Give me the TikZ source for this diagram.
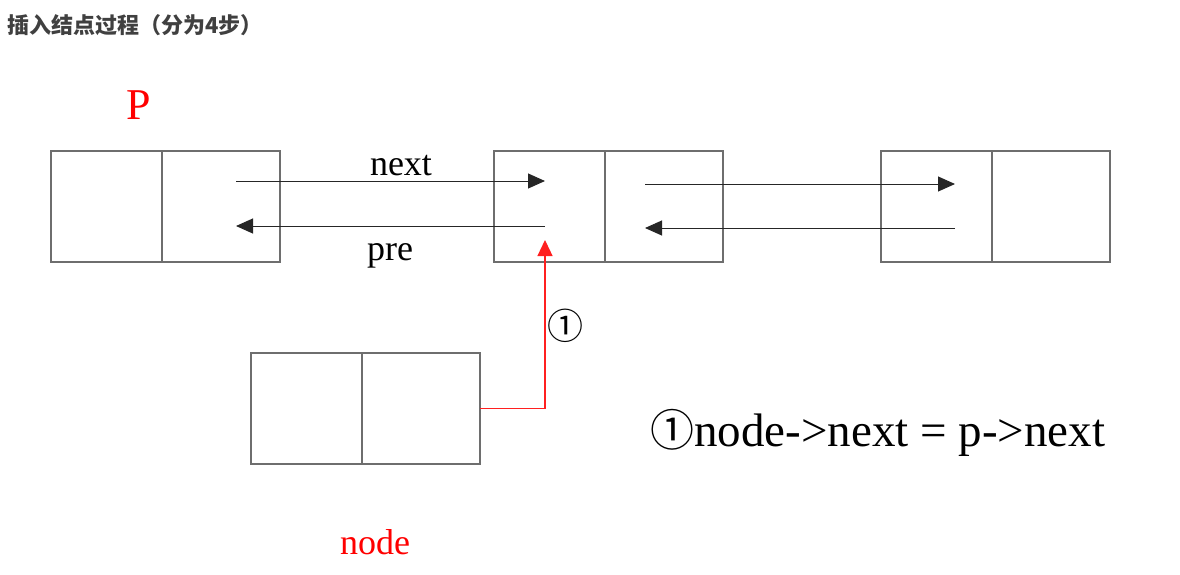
\documentclass[tikz,border=0pt]{standalone}
\usepackage{fontspec}
\setmainfont{Liberation Serif}
\newfontfamily\cjk{Noto Sans CJK SC}
\usetikzlibrary{arrows.meta, positioning}

\definecolor{boxgray}{HTML}{6E6E6E}
\definecolor{linkred}{HTML}{FF2020}
\definecolor{titlegray}{HTML}{404040}

\tikzset{
    cell/.style={draw=boxgray, line width=1.3pt, minimum height=111pt,
                 inner sep=0pt, outer sep=0pt},
    datacell/.style={cell, minimum width=111pt},
    linkcell/.style={cell, minimum width=118pt},
    link/.style={black!85, line width=1pt, -{Triangle[length=17pt, width=15pt]}},
}

\begin{document}
\begin{tikzpicture}[x=1pt, y=-1pt]

    \useasboundingbox (0,0) rectangle (1180,574);

    % 1. Tieu de
    \node[anchor=base west, inner sep=0pt, text=titlegray, font=\cjk\bfseries\fontsize{22}{26}\selectfont]
        (title) at (7,33) {插入结点过程（分为4步）};

    % 2. Ba nut cua danh sach va nut moi
    \node[datacell] (pdata) at (106.5,206.5) {};
    \node[linkcell, right=0pt of pdata] (plink) {};

    \node[datacell] (mdata) at (549.5,206.5) {};
    \node[linkcell, right=0pt of mdata] (mlink) {};

    \node[datacell] (rdata) at (936.5,206.5) {};
    \node[linkcell, right=0pt of rdata] (rlink) {};

    \node[datacell] (ndata) at (306.5,408.5) {};
    \node[linkcell, right=0pt of ndata] (nlink) {};

    % 3. Diem dau va cuoi cua cac con tro
    \coordinate (pnext) at (236,181);
    \coordinate (mnext) at (545,181);
    \coordinate (ppre)  at (236,226);
    \coordinate (mpre)  at (545,226);

    \coordinate (mnext2) at (645,184);
    \coordinate (rnext)  at (955,184);
    \coordinate (mpre2)  at (645,228);
    \coordinate (rpre)   at (955,228);

    \coordinate (mbot) at (545,240);

    % 4. Cac mui ten next / pre
    \draw[link] (pnext) -- (mnext);
    \draw[link] (mpre) -- (ppre);
    \draw[link] (mnext2) -- (rnext);
    \draw[link] (rpre) -- (mpre2);

    % 5. Buoc 1: node->next tro toi p->next
    \draw[linkred, line width=1.3pt, -{Triangle[length=16pt, width=15pt]}]
        (nlink.east) -| (mbot);

    % 6. Nhan
    \node[anchor=base, font=\fontsize{36}{40}\selectfont] (nextlbl) at (401,175) {next};
    \node[anchor=base, font=\fontsize{36}{40}\selectfont] (prelbl)  at (390,260) {pre};
    \node[font=\cjk\fontsize{36}{40}\selectfont] (steplbl) at (565,326) {①};

    \node[anchor=base, text=red, font=\fontsize{44}{48}\selectfont] (plbl) at (139,119) {P};
    \node[anchor=base, text=red, font=\fontsize{36}{40}\selectfont] (nodelbl) at (375,554) {node};

    \node[anchor=base west, inner sep=0pt, font=\fontsize{47}{51}\selectfont] (code) at (650,446)
        {{\cjk\fontsize{44}{48}\selectfont ①}node->next = p->next};

\end{tikzpicture}
\end{document}
